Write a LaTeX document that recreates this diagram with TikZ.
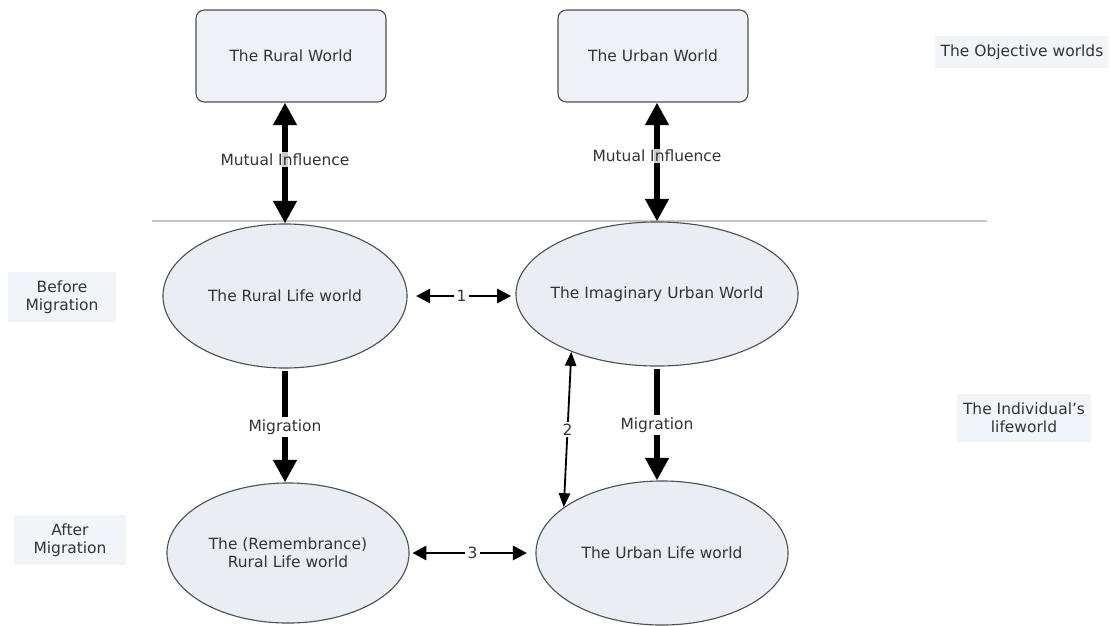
\documentclass[tikz,border=0pt]{standalone}
\usepackage{fontspec}
\setmainfont{DejaVu Sans}
\usetikzlibrary{shapes.geometric}
\usetikzlibrary{positioning}
\usetikzlibrary{calc}
\usetikzlibrary{arrows.meta}
\definecolor{boxfill}{RGB}{238,242,246}
\definecolor{ellfill}{RGB}{232,238,243}
\definecolor{tagfill}{RGB}{242,245,247}
\definecolor{edge}{RGB}{80,80,80}

\begin{document}
\begin{tikzpicture}[x=0.025cm, y=-0.025cm,
  every node/.style={font=\fontsize{11}{13}\selectfont, text=black!80},
  world/.style={draw=edge, line width=0.8pt, fill=boxfill, rounded corners=6pt, minimum width=4.75cm, minimum height=2.3cm},
  life/.style={draw=edge, line width=0.8pt, fill=ellfill, ellipse, inner sep=0pt, align=center},
  tag/.style={fill=tagfill, align=center, inner sep=4pt, inner ysep=6pt},
  bigarrow/.style={line width=4pt, -{Triangle[length=16pt, width=16pt]}},
  bigboth/.style={line width=4pt, {Triangle[length=16pt, width=16pt]}-{Triangle[length=16pt, width=16pt]}},
  midboth/.style={line width=2pt, {Triangle[length=10pt, width=10pt]}-{Triangle[length=10pt, width=10pt]}},
  thinboth/.style={line width=1.3pt, {Triangle[length=10pt, width=8pt]}-{Triangle[length=10pt, width=8pt]}},
  lbl/.style={fill=white, inner sep=2pt}]

\useasboundingbox (0,0) rectangle (1111,625);

%---------------------------------------
% Objective worlds
%---------------------------------------
\node[world] (rw) at (291,56) {The Rural World};
\node[world] (uw) at (653,56) {The Urban World};

% Separator
\coordinate (sepL) at (152,221);
\coordinate (sepR) at (987,221);
\draw[gray!45, line width=0.8pt] (sepL) -- (sepR);

%---------------------------------------
% Individual lifeworlds
%---------------------------------------
\node[life, minimum width=6.1cm, minimum height=3.6cm] (rlw) at (285,296) {The Rural Life world};
\node[life, minimum width=7.05cm, minimum height=3.6cm, inner xsep=-8pt] (iuw) at (657,294) {The Imaginary Urban World};
\node[life, minimum width=6.05cm, minimum height=3.5cm] (rem) at (288,553) {The (Remembrance)\\Rural Life world};
\node[life, minimum width=6.3cm, minimum height=3.6cm] (ulw) at (662,553) {The Urban Life world};

%---------------------------------------
% Side tags
%---------------------------------------
\node[tag] (objtag) at (1022,52) {The Objective worlds};
\node[tag] (indtag) at (1024,418) {The Individual's\\lifeworld};
\node[tag, minimum width=2.7cm] (beftag) at (62,297) {Before\\Migration};
\node[tag, minimum width=2.8cm] (afttag) at (70,540) {After\\Migration};

%---------------------------------------
% Connectors
%---------------------------------------
\draw[bigboth] (rw.south -| rlw.north) -- (rlw.north)
  node[pos=0.47, fill=white, fill opacity=0.8, text opacity=1, inner sep=1pt] (mi1) {Mutual Influence};
\draw[bigboth] (uw.south -| iuw.north) -- (iuw.north)
  node[pos=0.45, fill=white, fill opacity=0.8, text opacity=1, inner sep=1pt] (mi2) {Mutual Influence};

\draw[bigarrow] ([yshift=-2pt]rlw.south) -- (rlw.south |- rem.north) node[midway, lbl] (mig1) {Migration};
\draw[bigarrow] ([yshift=-2pt]iuw.south) -- (iuw.south |- ulw.north) node[midway, lbl] (mig2) {Migration};

\draw[midboth, shorten <=6pt, shorten >=3pt] (rlw.east) -- (rlw.east -| iuw.west) node[midway, lbl] (n1) {1};
\draw[midboth, shorten <=2pt, shorten >=6pt] (rem.east) -- (rem.east -| ulw.west) node[midway, lbl] (n3) {3};
\draw[thinboth] (iuw.214) -- (ulw.155) node[midway, lbl, inner sep=1pt] (n2) {2};

\end{tikzpicture}
\end{document}
